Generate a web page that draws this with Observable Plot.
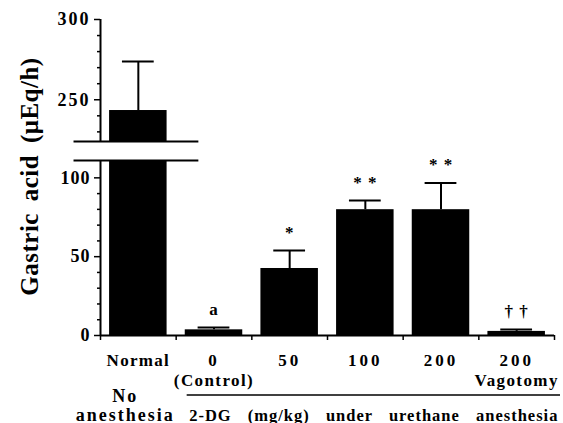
<!DOCTYPE html>
<html><head><meta charset="utf-8">
<script src="https://cdn.jsdelivr.net/npm/d3@7"></script>
<script src="https://cdn.jsdelivr.net/npm/@observablehq/plot@0.6"></script>
<style>
body{margin:0;background:#fff}
#wrap{position:relative;width:563px;height:423px;overflow:hidden;background:#fff}
#wrap svg{position:absolute;left:0;top:0}
text[aria-label="ytitle"]{letter-spacing:0.5px;word-spacing:5px}
text[aria-label="num"]{letter-spacing:3px}
text[aria-label="word"]{letter-spacing:1.3px}
text[aria-label="sub"]{letter-spacing:1.4px}
text[aria-label="groupleft"]{letter-spacing:2px}
text[aria-label="groupright"]{letter-spacing:1px;word-spacing:11px}
</style></head><body><div id="wrap"></div>
<script>
const categories = ["Normal","0","50","100","200","200"];
const sublabels = ["","(Control)","","","","Vagotomy"];
const values = [243.3, 3.6, 42.5, 79.8, 79.8, 2.6];
const errors = [30.5, 1.4, 11.4, 5.8, 17.0, 1.2];
const signif = ["","a","*","* *","* *","† †"];
const upperTicks = [250, 300];
const lowerTicks = [0, 50, 100];
const upperMinor = [230, 240, 260, 270, 280, 290];
const lowerMinor = [10, 20, 30, 40, 60, 70, 80, 90];
const yTitle = "Gastric acid (μEq/h)";
const groupLeft = "No\nanesthesia";
const groupRight = "2-DG (mg/kg) under urethane anesthesia";
const lowerDomain = [0, 111];
const upperDomain = [224, 300];

const table = categories.map((c, i) => ({
  i, c, sub: sublabels[i], v: values[i], e: errors[i], s: signif[i], top: values[i] + errors[i]
}));

const W = 563;
const common = {
  width: W, marginLeft: 100, marginRight: 9,
  x: {type: "linear", domain: [0, categories.length], axis: null},
};
const font = {fontFamily: "'Liberation Serif', 'Times New Roman', serif", fontWeight: "bold", fontSize: "17px", color: "black", background: "transparent", overflow: "visible"};

function dataMarks() {
  return [
    Plot.rectY(table, {x1: d => d.i + 0.12, x2: d => d.i + 0.88, y1: 0, y2: "v", fill: "black", clip: true}),
    Plot.ruleX(table, {x: d => d.i + 0.5, y1: "v", y2: "top", stroke: "black", strokeWidth: 2, clip: true}),
    Plot.ruleY(table, {y: "top", x1: d => d.i + 0.29, x2: d => d.i + 0.71, stroke: "black", strokeWidth: 2, clip: true})
  ];
}

const lower = Plot.plot({
  ...common,
  height: 423, marginTop: 160, marginBottom: 88,
  y: {domain: lowerDomain, axis: null},
  style: {...font, letterSpacing: "1px"},
  marks: [
    ...dataMarks(),
    Plot.ruleX([0], {y1: lowerDomain[0], y2: lowerDomain[1], stroke: "black", strokeWidth: 2}),
    Plot.ruleY([0], {stroke: "black", strokeWidth: 2}),
    Plot.axisY(lowerMinor, {tickSize: 3, tickFormat: () => "", strokeWidth: 1.5, label: null}),
    Plot.axisY(lowerTicks, {tickSize: 6, tickPadding: 4, strokeWidth: 1.5, fontSize: 18, label: null}),
    Plot.axisX(d3.range(categories.length + 1), {tickSize: 5, tickFormat: () => "", strokeWidth: 1.5, label: null}),
    Plot.ruleY([lowerDomain[1]], {x1: -0.35, x2: 1.3, stroke: "black", strokeWidth: 2}),
    Plot.text(table, {x: d => d.i + 0.5, y: "top", text: "s", dy: -13, lineAnchor: "bottom", fontSize: 17}),
    Plot.text(table, {x: d => d.i + 0.5, text: "c", frameAnchor: "bottom", dy: 30, lineAnchor: "bottom", fontSize: 17,
      ariaLabel: d => /^\d+$/.test(d.c) ? "num" : "word"}),
    Plot.text(table, {x: d => d.i + 0.5, text: "sub", frameAnchor: "bottom", dy: 50, lineAnchor: "bottom", fontSize: 17, ariaLabel: () => "sub"}),
    Plot.text([groupLeft], {x: 0.5, frameAnchor: "bottom", dx: -13, dy: 85, lineAnchor: "bottom", lineHeight: 1.05, fontSize: 18, ariaLabel: () => "groupleft"}),
    Plot.text([groupRight], {x: 1, frameAnchor: "bottom", dx: 13, dy: 85, textAnchor: "start", lineAnchor: "bottom", fontSize: 16.5, ariaLabel: () => "groupright"}),
    Plot.text([yTitle], {frameAnchor: "left", textAnchor: "middle", rotate: -90, dx: -71, dy: -71.5, fontSize: 25, ariaLabel: () => "ytitle"})
  ]
});

const upper = Plot.plot({
  ...common,
  height: 150, marginTop: 19, marginBottom: 9,
  y: {domain: upperDomain, axis: null},
  style: {...font, letterSpacing: "2px"},
  marks: [
    ...dataMarks(),
    Plot.ruleX([0], {y1: upperDomain[0], y2: upperDomain[1], stroke: "black", strokeWidth: 2}),
    Plot.axisY(upperMinor, {tickSize: 3, tickFormat: () => "", strokeWidth: 1.5, label: null}),
    Plot.axisY(upperTicks, {tickSize: 6, tickPadding: 4, strokeWidth: 1.5, fontSize: 18, label: null}),
    Plot.ruleY([upperDomain[0]], {x1: -0.35, x2: 1.3, stroke: "black", strokeWidth: 2})
  ]
});

const wrap = document.getElementById("wrap");
wrap.appendChild(lower);
wrap.appendChild(upper);

// bracket line above the 2-DG group label, positioned from the lower plot's scales
const xs = lower.scale("x"), ys = lower.scale("y");
d3.select(lower).append("line")
  .attr("x1", xs.apply(1) + 11).attr("x2", W - 3)
  .attr("y1", ys.apply(0) + 60).attr("y2", ys.apply(0) + 60)
  .attr("stroke", "black").attr("stroke-width", 1.5);
</script></body></html>
